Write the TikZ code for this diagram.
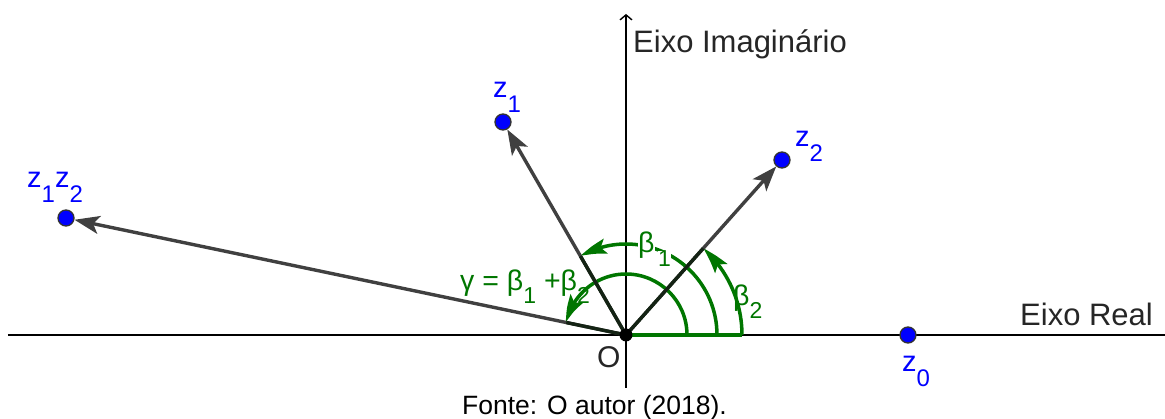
\documentclass[tikz,border=0pt]{standalone}
\usepackage{fontspec}
\setmainfont{Liberation Sans}
\usetikzlibrary{arrows.meta,calc,bending}
\definecolor{ggreen}{RGB}{0,118,0}
\definecolor{vgray}{RGB}{64,64,64}
\definecolor{ptblue}{RGB}{0,0,255}
\definecolor{dkseg}{RGB}{20,35,20}
\newcommand{\fs}[1]{\fontsize{#1}{#1}\selectfont}
\begin{document}
\begin{tikzpicture}[x=1pt,y=1pt,
  axisline/.style={line width=1.4pt, black, -{Straight Barb[length=5pt,width=12pt]}},
  vec/.style={line width=3.4pt, vgray, -{Stealth[length=25pt,width=18pt,inset=6pt]}},
  angarc/.style={line width=3.5pt, ggreen, -{Stealth[length=27pt,width=15pt,inset=5pt,bend]}},
  dk/.style={line width=3.4pt, dkseg},
  leg/.style={line width=3.5pt, ggreen},
  pt/.style={circle, fill=ptblue, draw=black!80, line width=1.3pt, minimum size=16pt, inner sep=0pt},
  odot/.style={circle, fill=black, minimum size=13pt, inner sep=0pt},
  lbl/.style={inner sep=0pt, anchor=base west},
  ]
\useasboundingbox (-626,-84) rectangle (539,335);
% axes
\coordinate (O) at (0,0);
\coordinate (xl) at (-618,0);
\coordinate (xr) at (546,0);
\coordinate (yb) at (0,-53);
\coordinate (yt) at (0,321);
\draw[axisline] (xl) -- (xr);
\draw[axisline] (yb) -- (yt);
% points
\node[pt] (z1) at (-123,213) {};
\node[pt] (z2) at (156,175) {};
\node[pt] (z12) at (-560,117) {};
\node[pt] (z0) at (282,0) {};
% angle legs and arcs
\draw[leg] (O) -- (116,0);
\draw[angarc] (61,0) arc[start angle=0, end angle=168.3, radius=61];
\draw[angarc] (91,0) arc[start angle=0, end angle=120, radius=91];
\draw[angarc] (116,0) arc[start angle=0, end angle=48.3, radius=116];
% vectors
\draw[vec] (O) -- (z1);
\draw[vec] (O) -- (z2);
\draw[vec] (O) -- (z12);
\draw[dk] (O) -- ($(O)!91pt!(z1)$);
\draw[dk] (O) -- ($(O)!116pt!(z2)$);
\draw[dk] (O) -- ($(O)!61pt!(z12)$);
\node[odot] (Od) at (O) {};
% labels
\node[lbl, text=black!85] (lim) at (7,282) {\fs{31}Eixo Imaginário};
\node[lbl, text=black!85] (lre) at (394,9) {\fs{31}Eixo Real};
\node[lbl, text=black!85] (lO) at (-29,-33) {\fs{30}O};
\node[lbl, text=ptblue] (lz1) at (-133,237) {\fs{29}z\raisebox{-14.5pt}{\fs{24}1}};
\node[lbl, text=ptblue] (lz2) at (169,188) {\fs{29}z\raisebox{-14.5pt}{\fs{24}2}};
\node[lbl, text=ptblue] (lz12) at (-599,147) {\fs{29}z\raisebox{-14.5pt}{\fs{24}1}z\raisebox{-14.5pt}{\fs{24}2}};
\node[lbl, text=ptblue] (lz0) at (276,-37) {\fs{29}z\raisebox{-14.5pt}{\fs{24}0}};
\node[lbl, text=ggreen] (lg) at (-166,44) {\fs{28.5}γ = β\raisebox{-13pt}{\fs{23}1} +β\raisebox{-13pt}{\fs{23}2}};
\node[lbl, text=ggreen, fill=white] (lb1) at (12,82) {\fs{28.5}β};
\node[lbl, text=ggreen, fill=white] (lb1s) at (32,68) {\fs{23}1};
\node[lbl, text=ggreen] (lb2) at (107,29) {\fs{28.5}β\raisebox{-13pt}{\fs{23}2}};
\node[lbl, text=black] (lf) at (-164,-80) {\fs{26.5}Fonte: O autor (2018).};
\end{tikzpicture}
\end{document}
